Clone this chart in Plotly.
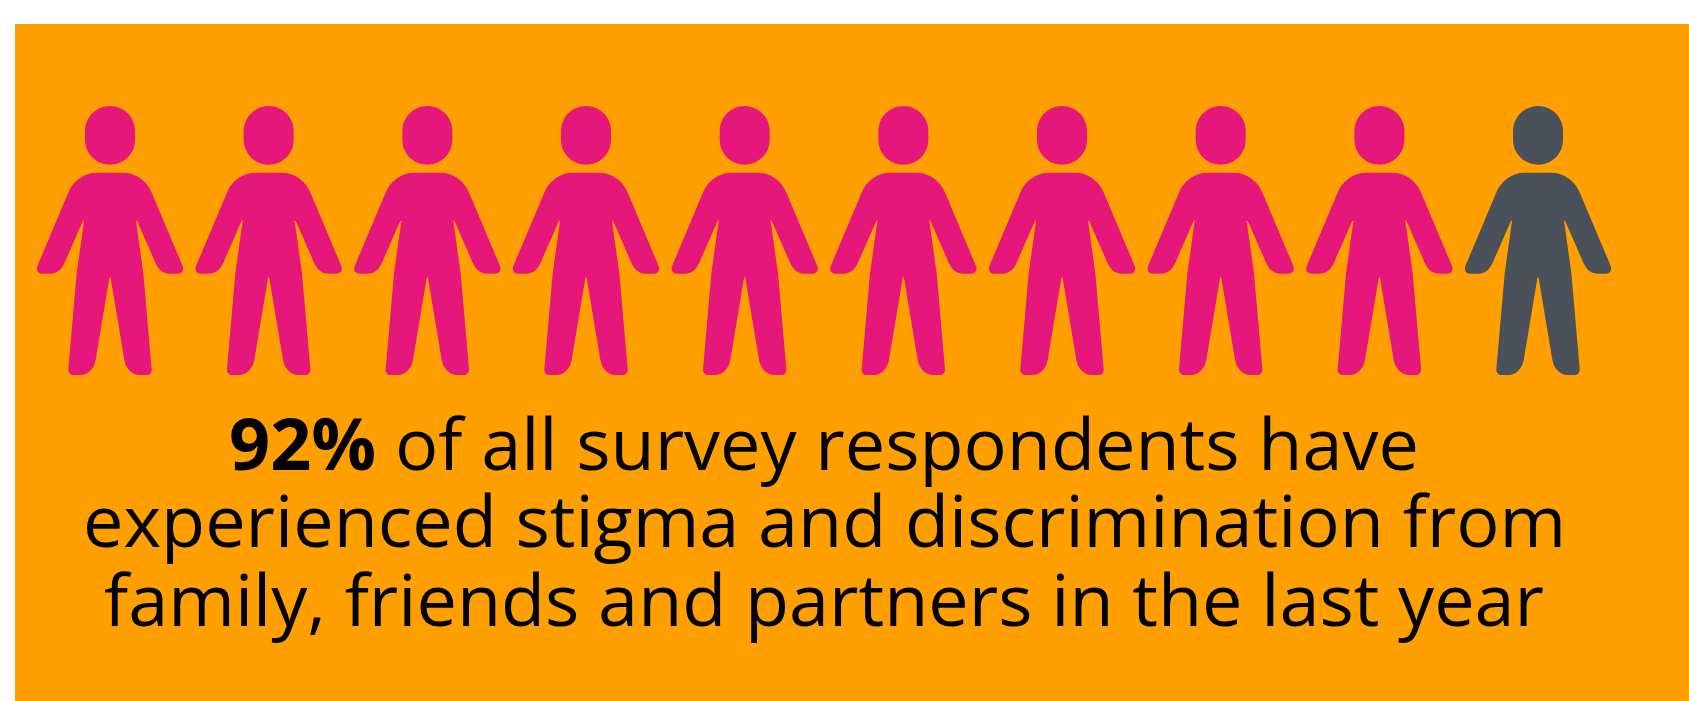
import plotly.graph_objects as go

# One figure per tenth of the respondents
people_status = ["affected"] * 9 + ["not affected"]
status_colors = {"affected": "#E5177B", "not affected": "#4B5159"}
caption_lines = [
    "<b>92%</b> of all survey respondents have",
    "experienced stigma and discrimination from",
    "family, friends and partners in the last year",
]

PANEL_COLOR = "#FFA000"
WIDTH, HEIGHT = 1689, 701
PANEL_LEFT, PANEL_TOP = 15, 24
FIRST_CENTER, SPACING = 110.0, 158.67
GLYPH_TOP = 80.0
GLYPH_SCALE = 1 / 3

# Pictogram outline, in glyph units around the figure's vertical axis
HEAD = [
    ("M", (-75, 153)),
    ("C", (-75, 111.6), (-41.4, 78), (0, 78)),
    ("C", (41.4, 78), (75, 111.6), (75, 153)),
    ("L", (75, 179)),
    ("C", (75, 220.4), (41.4, 254), (0, 254)),
    ("C", (-41.4, 254), (-75, 220.4), (-75, 179)),
    ("Z",),
]
BODY_START = (0, 278)
BODY_RIGHT = [
    ("L", (40, 278)),
    ("C", (78, 278), (112, 302), (127, 342)),
    ("L", (218, 558)),
    ("C", (223, 571), (215, 581), (205, 581)),
    ("L", (180, 581)),
    ("C", (160, 581), (146, 570), (136, 548)),
    ("L", (81, 422)),
    ("L", (78, 422)),
    ("L", (100, 580)),
    ("L", (125, 866)),
    ("C", (126, 877), (120, 885), (110, 885)),
    ("L", (88, 885)),
    ("C", (68, 885), (48, 868), (43, 840)),
    ("L", (2, 595)),
    ("L", (0, 590)),
]


def mirrored(start, segments):
    """Walk the right-hand outline backwards, reflected to the left side."""
    points = [start] + [seg[-1] for seg in segments]
    out = []
    for i in range(len(segments) - 1, -1, -1):
        seg = segments[i]
        end = points[i]
        flip = lambda p: (-p[0], p[1])
        if seg[0] == "L":
            out.append(("L", flip(end)))
        else:
            out.append(("C", flip(seg[2]), flip(seg[1]), flip(end)))
    return out


BODY = [("M", BODY_START)] + BODY_RIGHT + mirrored(BODY_START, BODY_RIGHT) + [("Z",)]


def to_svg(segments, center):
    parts = []
    for seg in segments:
        coords = " ".join(
            f"{center + x * GLYPH_SCALE:.2f},{GLYPH_TOP + y * GLYPH_SCALE:.2f}"
            for x, y in seg[1:]
        )
        parts.append(f"{seg[0]} {coords}".strip())
    return " ".join(parts)


shapes = []
for i, status in enumerate(people_status):
    center = FIRST_CENTER + i * SPACING
    for outline in (HEAD, BODY):
        shapes.append(
            dict(
                type="path",
                xref="x",
                yref="y",
                path=to_svg(outline, center),
                fillcolor=status_colors[status],
                line=dict(width=0),
                layer="above",
            )
        )

fig = go.Figure()
fig.update_layout(
    width=WIDTH,
    height=HEIGHT,
    margin=dict(l=PANEL_LEFT, r=0, t=PANEL_TOP, b=0, pad=0),
    paper_bgcolor="white",
    plot_bgcolor=PANEL_COLOR,
    showlegend=False,
    shapes=shapes,
    xaxis=dict(range=[PANEL_LEFT, WIDTH], visible=False, fixedrange=True),
    yaxis=dict(range=[HEIGHT, PANEL_TOP], visible=False, fixedrange=True),
    annotations=[
        dict(
            x=824,
            y=line_y,
            xref="x",
            yref="y",
            text=line,
            showarrow=False,
            xanchor="center",
            yanchor="middle",
            font=dict(family="Open Sans", size=72, color="black"),
        )
        for line, line_y in zip(caption_lines, (442, 519, 598))
    ],
)

fig.write_html("out.html", config=dict(displayModeBar=False))
